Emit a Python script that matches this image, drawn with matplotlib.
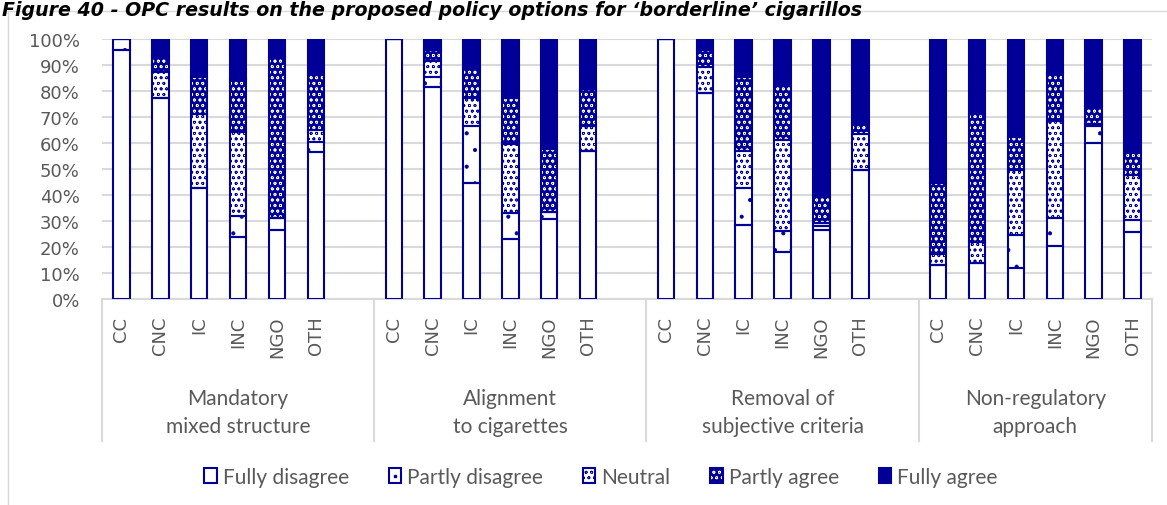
import matplotlib
matplotlib.use('Agg')
import matplotlib.pyplot as plt
from matplotlib.patches import Patch
from matplotlib.lines import Line2D
from matplotlib.transforms import blended_transform_factory
import numpy as np

groups = ['Mandatory\nmixed structure', 'Alignment\nto cigarettes',
          'Removal of\nsubjective criteria', 'Non-regulatory\napproach']
categories = ['CC', 'CNC', 'IC', 'INC', 'NGO', 'OTH']
series = ['Fully disagree', 'Partly disagree', 'Neutral', 'Partly agree', 'Fully agree']

# shares in %, order: 4 groups x (CC, CNC, IC, INC, NGO, OTH)
fully_disagree = [95.7, 77.5, 42.7, 23.8, 26.6, 56.4,
                  100.0, 81.7, 44.5, 22.9, 30.6, 56.9,
                  100.0, 79.2, 28.4, 18.0, 26.6, 49.7,
                  13.1, 13.8, 12.1, 20.4, 60.1, 25.8]
partly_disagree = [4.3, 0.0, 0.0, 8.0, 4.6, 4.1,
                   0.0, 3.8, 22.0, 10.1, 3.0, 0.0,
                   0.0, 0.0, 14.4, 8.1, 1.4, 0.0,
                   0.0, 0.0, 12.5, 10.6, 6.4, 4.5]
neutral = [0.0, 10.0, 28.4, 32.5, 0.0, 4.6,
           0.0, 6.2, 11.0, 26.6, 0.0, 9.5,
           0.0, 10.2, 14.0, 34.9, 1.3, 13.7,
           4.3, 8.1, 25.0, 37.6, 0.8, 17.4]
partly_agree = [0.0, 6.0, 14.1, 20.2, 61.8, 21.5,
                0.0, 4.1, 11.2, 17.9, 24.2, 14.2,
                0.0, 6.4, 28.5, 21.0, 10.2, 4.2,
                27.3, 49.1, 12.6, 18.2, 6.9, 8.3]
fully_agree = [0.0, 6.5, 14.8, 15.5, 7.0, 13.4,
               0.0, 4.2, 11.3, 22.5, 42.2, 19.4,
               0.0, 4.2, 14.7, 18.0, 60.5, 32.4,
               55.3, 29.0, 37.8, 13.2, 25.8, 44.0]

NAVY = '#000099'
GRID = '#D9D9D9'
TXT = '#595959'
W, H = 1167, 506

plt.rcParams['hatch.linewidth'] = 0.5

fig = plt.figure(figsize=(W / 100, H / 100), dpi=100)
ax = fig.add_axes([102 / W, 1 - 300 / H, 1050 / W, 260 / H])

# one empty slot between option groups
x = np.array([7 * g + k for g in range(len(groups)) for k in range(len(categories))])
width = 0.42

styles = [
    ('white', None, NAVY),
    ('white', '.', NAVY),
    ('white', 'ooo', NAVY),
    (NAVY, 'ooo', 'white'),
    (NAVY, None, NAVY),
]
data = [fully_disagree, partly_disagree, neutral, partly_agree, fully_agree]

bottom = np.zeros(len(x))
for values, (face, hatch, hcol) in zip(data, styles):
    values = np.array(values)
    ax.bar(x, values, width, bottom=bottom, color=face, edgecolor=hcol,
           hatch=hatch, linewidth=0, zorder=2)
    ax.bar(x, values, width, bottom=bottom, fill=False, edgecolor=NAVY,
           linewidth=1.5, zorder=3)
    bottom += values

ax.set_xlim(-0.5, 26.5)
ax.set_ylim(0, 100)
ax.set_yticks(np.arange(0, 101, 10))
ax.set_yticklabels([f'{v}%' for v in range(0, 101, 10)])
ax.yaxis.grid(True, color=GRID, linewidth=1.5)
ax.set_axisbelow(True)
for side in ['left', 'right', 'top']:
    ax.spines[side].set_visible(False)
ax.spines['bottom'].set_color(GRID)
ax.spines['bottom'].set_linewidth(1.5)
ax.tick_params(axis='y', length=0, pad=16, labelsize=13, labelcolor=TXT)

ax.set_xticks(x)
ax.set_xticklabels(categories * len(groups), rotation=90)
ax.tick_params(axis='x', length=0, pad=12, labelsize=13, labelcolor=TXT)

# multi-level category box
trans = blended_transform_factory(ax.transData, fig.transFigure)
for xs in [-0.5, 6.5, 13.5, 20.5, 26.5]:
    ax.plot([xs, xs], [1 - 300 / H, 1 - 442 / H], transform=trans,
            color=GRID, linewidth=1.5, clip_on=False)
for g, label in enumerate(groups):
    xc = min(7 * g + 3.0, 23.5)
    ax.text(xc, 1 - 413 / H, label, transform=trans, ha='center', va='center',
            fontsize=15, family='Lato', color=TXT, linespacing=1.45)

handles = [
    Patch(facecolor='white', edgecolor=NAVY, linewidth=1.5),
    (Patch(facecolor='white', edgecolor=NAVY, linewidth=1.5),
     Line2D([], [], marker='s', markersize=2, color=NAVY, linestyle='')),
    Patch(facecolor='white', edgecolor=NAVY, hatch='ooo', linewidth=1.5),
    (Patch(facecolor=NAVY, edgecolor='white', hatch='ooo', linewidth=0),
     Patch(fill=False, edgecolor=NAVY, linewidth=1.5)),
    Patch(facecolor=NAVY, edgecolor=NAVY, linewidth=1.5),
]
fig.legend(handles, series, loc='center', bbox_to_anchor=(601 / W, 1 - 478 / H),
           ncol=5, frameon=False, prop={'family': 'Lato', 'size': 15},
           labelcolor=TXT, handlelength=0.6, handleheight=0.7,
           handletextpad=0.3, columnspacing=1.9)

# outer chart frame
fig.add_artist(Line2D([8 / W, 8 / W], [0, 1 - 12 / H], color=GRID, linewidth=1))
fig.add_artist(Line2D([8 / W, 1], [1 - 12 / H, 1 - 12 / H], color=GRID, linewidth=1))

fig.text(2 / W, 1 - 1 / H,
         'Figure 40 - OPC results on the proposed policy options for \u2018borderline\u2019 cigarillos',
         fontsize=13.7, fontweight='bold', fontstyle='italic', va='top',
         family='DejaVu Sans', color='black')

fig.savefig('out.png', dpi=100)
